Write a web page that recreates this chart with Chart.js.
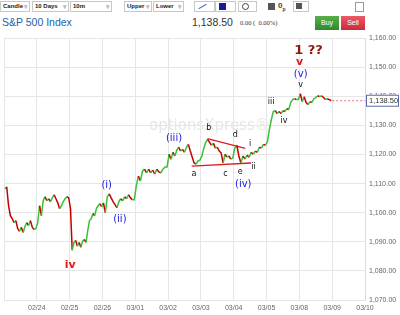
<!DOCTYPE html>
<html>
<head>
<meta charset="utf-8">
<script src="https://cdn.jsdelivr.net/npm/chart.js@4.4.1/dist/chart.umd.min.js"></script>
<style>
  html, body { margin: 0; padding: 0; background: #fff; }
  body { width: 400px; height: 315px; position: relative; overflow: hidden; font-family: "Liberation Sans", Arial, sans-serif; }
  .dd { position: absolute; top: 1px; height: 9px; border: 1px solid #c8c8c8; background: #fff; font-size: 6px; font-weight: bold; line-height: 9px; padding-left: 2px; color: #222; box-sizing: content-box; }
  .dd:after { content: "\25BE"; position: absolute; right: 1px; top: 0; color: #bbb; font-size: 7px; }
  .ic { position: absolute; top: 1px; height: 9px; border: 1px solid #c8c8c8; background: #fff; }
  .title { position: absolute; top: 16px; left: 2px; font-size: 10.5px; color: #2460a8; }
  .last { position: absolute; top: 16px; left: 192px; font-size: 10.5px; color: #333; }
  .chg { position: absolute; top: 19px; left: 240px; font-size: 6.5px; color: #333; font-family: "Liberation Serif", serif; }
  .btn { position: absolute; top: 16px; width: 24px; height: 14px; color: #fff; font-size: 7px; text-align: center; line-height: 14px; }
  #wrap { position: absolute; left: 0; top: 30px; width: 400px; height: 285px; }
</style>
</head>
<body>
<div class="dd" style="left:0;width:26px">Candle</div>
<div class="dd" style="left:32px;width:33px">10 Days</div>
<div class="dd" style="left:70px;width:38px">10m</div>
<div class="dd" style="left:124px;width:24px">Upper</div>
<div class="dd" style="left:153px;width:27px">Lower</div>
<div class="ic" style="left:194px;width:19px"><div style="position:absolute;left:3px;top:4px;width:9px;height:1px;background:#4a6fd0;transform:rotate(-30deg)"></div></div>
<div class="ic" style="left:215px;width:19px"><div style="position:absolute;left:3px;top:1px;width:7px;height:7px;background:#1a1a9a"></div></div>
<div class="ic" style="left:238px;width:17px"><div style="position:absolute;left:3px;top:1px;width:5px;height:5px;border:1px solid #444;border-radius:50%"></div></div>
<div style="position:absolute;left:268px;top:3px;width:7px;height:7px;background:#555"></div>
<div style="position:absolute;left:278px;top:1px;font-size:8px;font-weight:bold;color:#444">0<sub style="font-size:5px">p</sub></div>
<div class="ic" style="left:293px;width:14px"><div style="position:absolute;left:2px;top:1px;width:6px;height:6px;background:#555"></div></div>
<div style="position:absolute;left:355px;top:2px;width:7px;height:8px;border:1px solid #999"></div>
<div class="title">S&amp;P 500 Index</div>
<div class="last">1,138.50</div>
<div class="chg">0.00 (&nbsp; 0.00%)</div>
<div class="btn" style="left:315px;background:linear-gradient(#5aae4a,#2f8a2a)">Buy</div>
<div class="btn" style="left:341px;background:linear-gradient(#ec5a68,#c82a3c)">Sell</div>
<div id="wrap"><canvas id="chart" width="400" height="285"></canvas></div>
<script>
// 10-minute S&P 500 candles, sampled as closes per trading day
const tradingDays = ['02/23', '02/24', '02/25', '02/26', '03/01', '03/02', '03/03', '03/04', '03/05', '03/08'];
const axisDates = ['02/23', '02/24', '02/25', '02/26', '03/01', '03/02', '03/03', '03/04', '03/05', '03/08', '03/09', '03/10'];
const closes = [
    [1108.2, 1108.9, 1102.4, 1099, 1098, 1096.6, 1097.3, 1094.6, 1093.6, 1095, 1093.2, 1095.3, 1096.6, 1095.6, 1097.3, 1095, 1094.2, 1094.6],
    [1096.6, 1102.4, 1099, 1104.1, 1105.5, 1104.1, 1104.8, 1103.8, 1105.1, 1106.2, 1104.8, 1103.4, 1101.4, 1102.4, 1103.8, 1104.8, 1105.5, 1105.1],
    [1101.4, 1087.1, 1089.8, 1090.5, 1088.5, 1089.8, 1088.1, 1090.2, 1090.8, 1089.8, 1093.9, 1097.3, 1098, 1099.7, 1099, 1101.4, 1102.4, 1103.1, 1102.1],
    [1103.4, 1100, 1105.5, 1106.5, 1105.1, 1103.8, 1102.8, 1101.7, 1103.8, 1104.8, 1104.1, 1105.5, 1104.8, 1106.2, 1105.1, 1104.5, 1104.5],
    [1109.2, 1112.6, 1110.9, 1114.3, 1115, 1113.7, 1115, 1113.7, 1114.7, 1113.3, 1115, 1114, 1113.7, 1115, 1115.7, 1115.7],
    [1120.1, 1118.4, 1120.8, 1119.5, 1121.5, 1122.5, 1121.2, 1121.8, 1120.8, 1122.5, 1123.5, 1121.2, 1119.1, 1117.1, 1116.7, 1117.8, 1118.1],
    [1119.5, 1122.2, 1124.2, 1125.2, 1124.2, 1123.2, 1123.9, 1122.2, 1122.5, 1121.2, 1120.5, 1117.1, 1120.1, 1119.1, 1119.5, 1118.4, 1118.8],
    [1122.2, 1123.2, 1119.5, 1117.1, 1119.5, 1118.4, 1119.8, 1119.1, 1120.8, 1120.1, 1121.2, 1120.8, 1122.5, 1122.2, 1123.5, 1123.2],
    [1124.6, 1128.7, 1132.1, 1134.8, 1135.1, 1134.1, 1134.8, 1134.1, 1135.1, 1134.8, 1135.8, 1135.5, 1137.9, 1138.9, 1139.2, 1138.9, 1138.9],
    [1140.9, 1138.2, 1139.9, 1137.9, 1137.2, 1138.2, 1137.9, 1139.2, 1139.6, 1140.2, 1139.9, 1140.2, 1139.6, 1138.9, 1139.2, 1138.9, 1138.5]
];
const lastPrice = 1138.50;

// triangle (iv) trend lines: [day, price]
const upperLine = [[6.2, 1125.5], [7.35, 1122.1]];
const lowerLine = [[5.72, 1116.0], [7.53, 1117.1]];

// Elliott wave labels: text, day position, price
const waveLabels = [
    ['1 ??', 9.28, 1155.9, 'big'],
    ['v', 9.01, 1151.8, 'red'],
    ['(v)', 9.04, 1147.4, 'blue'],
    ['v', 9.04, 1144.0, 'minor'],
    ['iii', 8.14, 1138.2, 'minor'],
    ['iv', 8.53, 1131.4, 'minor'],
    ['b', 6.24, 1129.3, 'minor'],
    ['d', 7.05, 1126.9, 'minor'],
    ['i', 7.5, 1123.5, 'minor'],
    ['c', 6.75, 1113.3, 'minor'],
    ['e', 7.2, 1114.0, 'minor'],
    ['ii', 7.6, 1115.7, 'minor'],
    ['a', 5.79, 1113.3, 'minor'],
    ['(iv)', 7.29, 1109.9, 'blue'],
    ['(iii)', 5.18, 1125.6, 'blue'],
    ['(i)', 3.13, 1109.5, 'blue'],
    ['(ii)', 3.53, 1097.6, 'blue'],
    ['iv', 2.02, 1081.9, 'red']
];

const labelStyles = {
    big: { font: 'bold 13px "DejaVu Sans", sans-serif', color: '#8a1a08' },
    red: { font: 'bold 11px "DejaVu Sans", sans-serif', color: '#e01818' },
    blue: { font: '10px "DejaVu Sans", sans-serif', color: '#2020e0' },
    minor: { font: '8px "DejaVu Sans", sans-serif', color: '#111' }
};

const GREEN = '#35c235';
const RED = '#c40000';

const pricePoints = [];
closes.forEach((day, d) => {
    day.forEach((c, i) => pricePoints.push({ x: d + (i + 0.5) / day.length, y: c }));
});

const overlayPlugin = {
    id: 'overlay',
    beforeDatasetsDraw(chart) {
        // faint broker watermark
        const { ctx, chartArea } = chart;
        ctx.save();
        ctx.font = '15px "DejaVu Sans", sans-serif';
        ctx.fillStyle = '#e6e6e6';
        ctx.textAlign = 'left';
        ctx.textBaseline = 'middle';
        ctx.fillText('optionsXpress\u00ae', chartArea.left + 145, chartArea.top + 88);
        ctx.restore();
    },
    afterDatasetsDraw(chart) {
        const { ctx } = chart;
        const xs = chart.scales.x, ys = chart.scales.y;
        ctx.save();
        ctx.textAlign = 'center';
        ctx.textBaseline = 'middle';
        waveLabels.forEach(([text, day, price, kind]) => {
            ctx.font = labelStyles[kind].font;
            ctx.fillStyle = labelStyles[kind].color;
            ctx.fillText(text, xs.getPixelForValue(day), ys.getPixelForValue(price));
        });
        ctx.restore();
    },
    afterDraw(chart) {
        // last price box on the right axis
        const { ctx, chartArea } = chart;
        const y = chart.scales.y.getPixelForValue(lastPrice);
        ctx.save();
        ctx.fillStyle = '#fff';
        ctx.fillRect(chartArea.right + 1, y - 6, 33, 12);
        ctx.strokeStyle = '#5a6aa8';
        ctx.lineWidth = 1;
        ctx.strokeRect(chartArea.right + 1.5, y - 5.5, 32, 11);
        ctx.fillStyle = '#333';
        ctx.font = '7.5px "Liberation Sans", Arial, sans-serif';
        ctx.textAlign = 'left';
        ctx.textBaseline = 'middle';
        ctx.fillText(lastPrice.toLocaleString('en-US', { minimumFractionDigits: 2 }), chartArea.right + 4, y + 0.5);
        ctx.restore();
    }
};

new Chart(document.getElementById('chart'), {
    type: 'line',
    data: {
        datasets: [
            {
                data: pricePoints,
                borderWidth: 1.5,
                pointRadius: 0,
                borderColor: GREEN,
                segment: {
                    borderColor: c => c.p1.parsed.y >= c.p0.parsed.y ? GREEN : RED
                }
            },
            {
                data: upperLine.map(p => ({ x: p[0], y: p[1] })),
                borderColor: '#e01c1c',
                borderWidth: 1.3,
                pointRadius: 0
            },
            {
                data: lowerLine.map(p => ({ x: p[0], y: p[1] })),
                borderColor: '#e01c1c',
                borderWidth: 1.3,
                pointRadius: 0
            },
            {
                data: [{ x: tradingDays.length, y: lastPrice }, { x: axisDates.length - 1, y: lastPrice }],
                borderColor: '#e07070',
                borderWidth: 1,
                borderDash: [2, 2],
                pointRadius: 0
            }
        ]
    },
    options: {
        responsive: false,
        animation: false,
        events: [],
        layout: { padding: { top: 6, left: 0, right: 0, bottom: 0 } },
        plugins: { legend: { display: false }, tooltip: { enabled: false } },
        scales: {
            x: {
                type: 'linear',
                min: 0,
                max: axisDates.length - 1,
                afterFit: s => { s.height = 15; },
                afterBuildTicks: s => { s.ticks = axisDates.map((_, i) => ({ value: i })); },
                grid: { color: '#e6e6e6', drawTicks: false },
                border: { display: false },
                ticks: {
                    padding: 4,
                    maxRotation: 0,
                    autoSkip: false,
                    color: '#666',
                    font: { size: 7, family: '"Liberation Sans", Arial, sans-serif' },
                    callback: v => v === 0 ? '' : axisDates[v]
                }
            },
            y: {
                position: 'right',
                min: 1070,
                max: 1160,
                afterFit: s => { s.width = 35; },
                grid: { color: '#e6e6e6', drawTicks: false },
                border: { color: '#dcdcdc' },
                ticks: {
                    stepSize: 10,
                    padding: 4,
                    color: '#666',
                    font: { size: 7, family: '"Liberation Sans", Arial, sans-serif' },
                    callback: v => v.toLocaleString('en-US', { minimumFractionDigits: 2 })
                }
            }
        }
    },
    plugins: [overlayPlugin]
});
</script>
</body>
</html>
